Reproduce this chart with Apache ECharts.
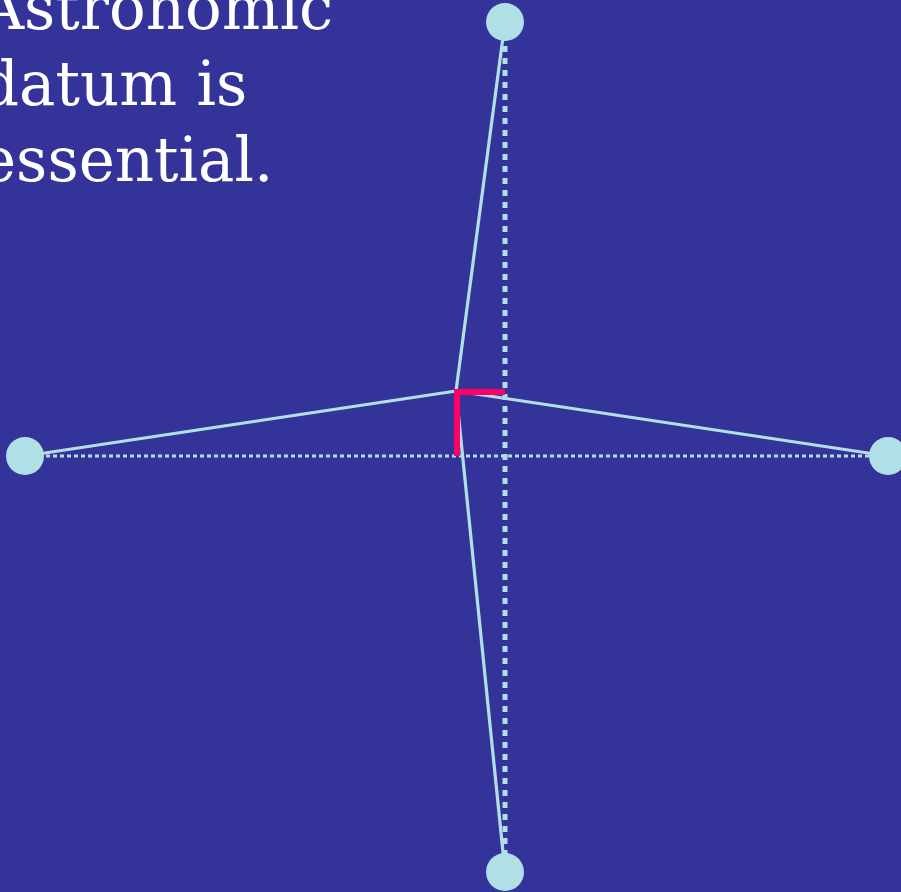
<!DOCTYPE html>
<html>
<head>
<meta charset="utf-8">
<script src="https://cdn.jsdelivr.net/npm/echarts@6/dist/echarts.min.js"></script>
<style>
  html, body { margin: 0; padding: 0; background: #333399; }
  #chart { width: 901px; height: 892px; }
</style>
</head>
<body>
<div id="chart"></div>
<script>
// ---- data (units: chart coordinates, origin at the dotted cross) ----
const textLines = ['Astronomic', 'datum is', 'essential.'];
const pointNames = ['top', 'left', 'right', 'bottom'];
const pointX = [0, -480, 383, 0];
const pointY = [434, 0, 0, -416];
const apexX = -49;
const apexY = 65;
const rightAngleX = [-48, -48, 0];
const rightAngleY = [0, 64, 64];

const BG = '#333399';
const LINE = '#B0E0E6';
const PINK = '#FF0066';

const chart = echarts.init(document.getElementById('chart'), null, { renderer: 'canvas' });

const pts = pointX.map((x, i) => [x, pointY[i]]);
const idx = n => pointNames.indexOf(n);

const spokes = pointNames.map(n => ({
  type: 'line', silent: true, symbol: 'none', z: 3,
  lineStyle: { color: LINE, width: 3.2 },
  data: [[apexX, apexY], pts[idx(n)]]
}));

const textGraphics = textLines.map((t, i) => ({
  type: 'text',
  left: -20,
  top: -17 + i * 76,
  style: { text: t, font: '61px "DejaVu Serif"', fill: '#ffffff' }
}));

chart.setOption({
  backgroundColor: BG,
  animation: false,
  grid: { left: 0, right: 0, top: 0, bottom: 0 },
  xAxis: { type: 'value', min: -505, max: 396, show: false },
  yAxis: { type: 'value', min: -436, max: 456, show: false },
  graphic: textGraphics,
  series: [
    {
      type: 'line', silent: true, symbol: 'none', z: 2,
      lineStyle: { color: LINE, width: 5, type: [6, 6] },
      data: [pts[idx('top')], pts[idx('bottom')]]
    },
    {
      type: 'line', silent: true, symbol: 'none', z: 2,
      lineStyle: { color: LINE, width: 3, type: [4, 3] },
      data: [pts[idx('left')], pts[idx('right')]]
    },
    ...spokes,
    {
      type: 'line', silent: true, symbol: 'none', z: 4,
      lineStyle: { color: PINK, width: 6, cap: 'butt', join: 'miter' },
      data: rightAngleX.map((x, i) => [x, rightAngleY[i]])
    },
    {
      type: 'scatter', silent: true, z: 5,
      symbol: 'circle', symbolSize: 38,
      itemStyle: { color: LINE, opacity: 1 },
      data: pts
    }
  ]
});
</script>
</body>
</html>
